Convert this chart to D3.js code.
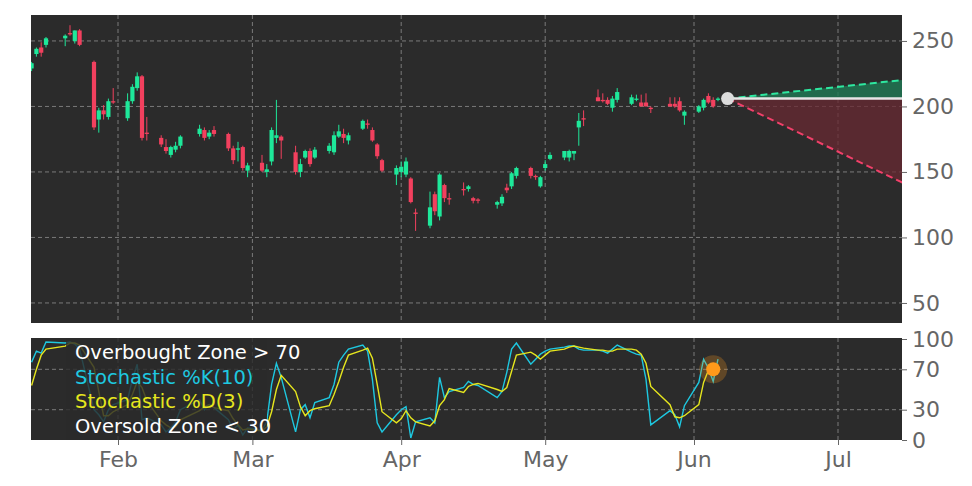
<!DOCTYPE html>
<html><head><meta charset="utf-8">
<script src="https://cdn.jsdelivr.net/npm/d3@7"></script>
<style>body{margin:0;background:#fff}svg{display:block}</style>
</head><body><svg id="c" width="972" height="486"></svg>
<script>
// date, open, high, low, close
const candles = [
["2025-01-14",229,234,227,233],["2025-01-15",240,245,238,244],["2025-01-16",245,249,238,241],["2025-01-17",247,253,245,252],
["2025-01-21",252,255,246,254],["2025-01-22",256,262,254,255],["2025-01-23",250,258,248,258],["2025-01-24",258,259,246,247],
["2025-01-27",234,235,182,184],["2025-01-28",190,199,180,197],["2025-01-29",197,201,190,194],["2025-01-30",192,206,190,204],
["2025-01-31",204,214,202,203],["2025-02-03",191,210,189,204],["2025-02-04",204,217,202,215],["2025-02-05",214,226,212,223],
["2025-02-06",223,224,174,176],["2025-02-07",180,192,174,179],["2025-02-10",176,178,169,171],["2025-02-11",169,175,164,166],
["2025-02-12",163,170,161,169],["2025-02-13",167,173,165,170],["2025-02-14",170,178,168,177],["2025-02-18",179,186,177,183],
["2025-02-19",182,184,174,176],["2025-02-20",177,182,175,180],["2025-02-21",182,185,177,179],["2025-02-24",179,180,166,168],
["2025-02-25",168,170,156,159],["2025-02-26",167,173,158,168],["2025-02-27",169,170,151,153],["2025-02-28",151,157,146,155],
["2025-03-03",157,163,150,151],["2025-03-04",150,156,146,152],["2025-03-05",158,184,155,182],["2025-03-06",176,205,172,178],
["2025-03-07",177,178,160,174],["2025-03-10",165,170,148,150],["2025-03-11",150,160,146,156],["2025-03-12",161,167,160,166],
["2025-03-13",166,168,154,156],["2025-03-14",161,169,160,167],["2025-03-17",166,172,164,170],["2025-03-18",165,181,163,178],
["2025-03-19",177,186,176,181],["2025-03-20",179,183,172,176],["2025-03-21",174,180,171,178],["2025-03-24",183,190,182,189],
["2025-03-25",187,190,183,186],["2025-03-26",182,184,173,174],["2025-03-27",171,172,160,162],["2025-03-28",159,160,150,151],
["2025-03-31",148,155,140,153],["2025-04-01",150,158,146,154],["2025-04-02",148,161,146,158],["2025-04-03",145,146,126,127],
["2025-04-04",119,122,105,118],["2025-04-07",109,135,107,123],["2025-04-08",133,135,117,120],["2025-04-09",116,149,113,148],
["2025-04-10",140,141,127,130],["2025-04-11",130,134,125,129],["2025-04-14",137,142,132,136],["2025-04-15",137,140,135,139],
["2025-04-16",130,131,126,128],["2025-04-17",129,130,126,128],["2025-04-21",125,128,122,127],["2025-04-22",126,133,124,131],
["2025-04-23",138,141,134,136],["2025-04-24",139,150,137,149],["2025-04-25",147,154,145,153],["2025-04-28",153,154,145,147],
["2025-04-29",147,148,144,146],["2025-04-30",139,147,138,146],["2025-05-01",153,159,151,156],["2025-05-02",160,165,159,163],
["2025-05-05",161,166,159,166],["2025-05-06",161,167,158,166],["2025-05-07",164,166,159,166],["2025-05-08",184,195,170,189],
["2025-05-09",191,197,185,190],["2025-05-12",207,213,204,204],["2025-05-13",205,210,203,204],["2025-05-14",205,207,201,202],
["2025-05-15",199,208,196,206],["2025-05-16",205,214,203,211],["2025-05-19",202,209,201,207],["2025-05-20",205,209,204,206],
["2025-05-21",203,209,200,200],["2025-05-22",203,210,200,200],["2025-05-23",199,200,195,198],["2025-05-27",202,207,200,200],
["2025-05-28",202,207,199,200],["2025-05-29",204,207,196,197],["2025-05-30",193,197,186,196],["2025-06-02",196,201,195,200],
["2025-06-03",199,206,197,205],["2025-06-04",208,210,202,203],["2025-06-05",205,207,199,200],["2025-06-06",205,207,204,206]
];
const stochK = [77,88,86,97,96,97,95,90,30,25,18,30,35,40,60,75,20,22,15,8,12,18,30,40,30,35,32,20,10,15,5,12,
10,18,55,76,62,8,30,35,22,37,42,55,77,84,90,94,88,60,17,8,25,30,33,2,18,22,17,62,42,48,52,58,55,54,42,48,67,90,96,
75,80,85,88,90,92,93,93,90,89,89,88,86,90,94,87,85,84,60,15,29,25,13,34,57,80,71,58,80];
const stochD = [54,70,84,90,93,96,96,94,72,48,24,24,28,35,45,58,52,39,19,15,12,13,20,29,33,35,32,29,21,15,10,11,
9,13,28,50,64,48,33,24,29,31,34,45,58,72,84,89,91,81,55,28,17,21,29,22,18,14,19,34,40,51,47,53,55,56,50,48,52,68,84,
87,84,80,84,88,90,92,93,92,91,89,89,88,88,90,90,89,85,76,53,35,23,22,24,35,57,69,70,70];
const priceTicks = [50,100,150,200,250];
const stochTicks = [0,30,70,100];
const monthTicks = ["2025-02-01","2025-03-01","2025-04-01","2025-05-01","2025-06-01","2025-07-01"];
const forecast = {date:"2025-06-08", start:206, endDate:"2025-07-14", high:220, low:142.6};
const lastStoch = {date:"2025-06-05", value:70};
const legendItems = [["Overbought Zone > 70","#ffffff"],["Stochastic %K(10)","#1ec8e0"],["Stochastic %D(3)","#e6e61e"],["Oversold Zone < 30","#ffffff"]];

const P = d3.timeParse("%Y-%m-%d");
const PT = d3.timeParse("%Y-%m-%d %H");
const svg = d3.select("#c");
const L=31,R=902, T1=15,B1=323, T2=338,B2=440;
const x = d3.scaleTime().domain([PT("2025-01-13 21"),PT("2025-07-14 08")]).range([L,R]);
const y = d3.scaleLinear().domain([34.7,269.8]).range([B1,T1]);
const ys = d3.scaleLinear().domain([0,100]).range([B2,T2+1]);
const bg="#2b2b2b", up="#1ee89a", dn="#f2405e";

svg.append("rect").attr("x",L).attr("y",T1).attr("width",R-L).attr("height",B1-T1).attr("fill",bg);
svg.append("rect").attr("x",L).attr("y",T2).attr("width",R-L).attr("height",B2-T2).attr("fill",bg);
svg.append("clipPath").attr("id","c1").append("rect").attr("x",L).attr("y",T1).attr("width",R-L).attr("height",B1-T1);
svg.append("clipPath").attr("id","c2").append("rect").attr("x",L).attr("y",T2).attr("width",R-L).attr("height",B2-T2);

const grid = svg.append("g").attr("stroke","#b0b0b0").attr("stroke-opacity",0.75).attr("stroke-dasharray","4,3").attr("stroke-width",0.8);
priceTicks.forEach(t=>grid.append("line").attr("x1",L).attr("x2",R).attr("y1",y(t)).attr("y2",y(t)));
[30,70].forEach(t=>grid.append("line").attr("x1",L).attr("x2",R).attr("y1",ys(t)).attr("y2",ys(t)));
monthTicks.forEach(m=>{const X=x(P(m));
 grid.append("line").attr("x1",X).attr("x2",X).attr("y1",T1).attr("y2",B1);
 grid.append("line").attr("x1",X).attr("x2",X).attr("y1",T2).attr("y2",B2);});

// forecast cone
const g1 = svg.append("g").attr("clip-path","url(#c1)");
const fx0=x(P(forecast.date)), fx1=x(P(forecast.endDate))+20;
const slope=(v)=> (y(v)-y(forecast.start))/(x(P(forecast.endDate))-fx0);
const yEnd=(v)=> y(forecast.start)+slope(v)*(fx1-fx0);
g1.append("path").attr("d",`M${fx0},${y(forecast.start)}L${fx1},${yEnd(forecast.high)}L${fx1},${y(forecast.start)}Z`).attr("fill","#1f7a55").attr("opacity",0.8);
g1.append("path").attr("d",`M${fx0},${y(forecast.start)}L${fx1},${yEnd(forecast.low)}L${fx1},${y(forecast.start)}Z`).attr("fill","#6a2a33").attr("opacity",0.75);
g1.append("line").attr("x1",fx0).attr("x2",fx1).attr("y1",y(forecast.start)).attr("y2",yEnd(forecast.high)).attr("stroke","#2ee8a0").attr("stroke-width",2).attr("stroke-dasharray","7,4");
g1.append("line").attr("x1",fx0).attr("x2",fx1).attr("y1",y(forecast.start)).attr("y2",yEnd(forecast.low)).attr("stroke","#f2406a").attr("stroke-width",2).attr("stroke-dasharray","7,4");
g1.append("line").attr("x1",fx0).attr("x2",fx1).attr("y1",y(forecast.start)).attr("y2",y(forecast.start)).attr("stroke","#e6e6e6").attr("stroke-width",2.5);

// candles
const cw=4.2;
candles.forEach(([d,o,h,l,c])=>{const X=x(P(d)), col=c>=o?up:dn;
 g1.append("line").attr("x1",X).attr("x2",X).attr("y1",y(h)).attr("y2",y(l)).attr("stroke",col).attr("stroke-width",1);
 g1.append("rect").attr("x",X-cw/2).attr("width",cw).attr("y",y(Math.max(o,c))).attr("height",Math.max(1.2,Math.abs(y(o)-y(c)))).attr("fill",col);
});
g1.append("circle").attr("cx",fx0).attr("cy",y(forecast.start)).attr("r",6.5).attr("fill","#dcdcdc");

// stochastic
const g2 = svg.append("g").attr("clip-path","url(#c2)");
const line = d3.line().x((v,i)=>x(P(candles[i][0]))).y(v=>ys(v));
g2.append("path").attr("d",line(stochK)).attr("fill","none").attr("stroke","#1ec8e0").attr("stroke-width",1.4);
g2.append("path").attr("d",line(stochD)).attr("fill","none").attr("stroke","#e6e61e").attr("stroke-width",1.4);
g2.append("circle").attr("cx",x(P(lastStoch.date))).attr("cy",ys(lastStoch.value)).attr("r",14).attr("fill","#ff9a1a").attr("opacity",0.25);
g2.append("circle").attr("cx",x(P(lastStoch.date))).attr("cy",ys(lastStoch.value)).attr("r",7).attr("fill","#ff9a1a");

// legend
g2.append("rect").attr("x",66).attr("y",T2).attr("width",201).attr("height",B2-T2).attr("fill",bg).attr("opacity",0.82);
legendItems.forEach(([t,c],i)=>g2.append("text").attr("x",75).attr("y",359+i*24.5).attr("fill",c).attr("font-family","DejaVu Sans").attr("font-size",19.5).text(t));

// axes
const fontAx = s=>s.selectAll("text").attr("font-family","DejaVu Sans").attr("font-size",22).attr("fill","#666");
const ax1 = svg.append("g").attr("transform",`translate(${R},0)`).call(d3.axisRight(y).tickValues(priceTicks).tickSize(5).tickPadding(5));
const ax2 = svg.append("g").attr("transform",`translate(${R},0)`).call(d3.axisRight(ys).tickValues(stochTicks).tickSize(5).tickPadding(5));
const ax3 = svg.append("g").attr("transform",`translate(0,${B2})`).call(d3.axisBottom(x).tickValues(monthTicks.map(P)).tickFormat(d3.timeFormat("%b")).tickSize(5).tickPadding(6));
[ax1,ax2,ax3].forEach(a=>{a.select(".domain").remove();a.selectAll("line").attr("stroke","#666");fontAx(a);});
</script></body></html>
